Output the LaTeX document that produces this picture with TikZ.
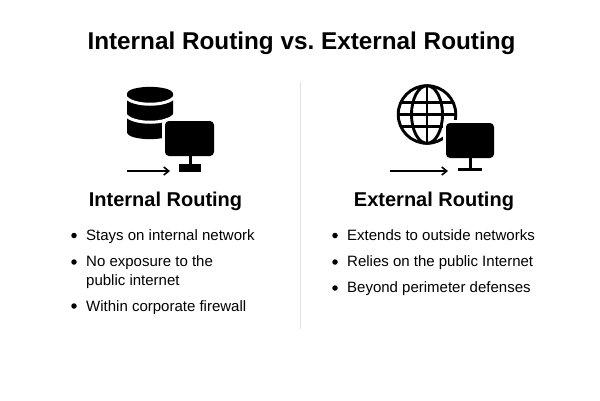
\documentclass[tikz,border=0pt]{standalone}
\usepackage{fontspec}
\setmainfont{Liberation Sans}
\usetikzlibrary{arrows.meta}
\tikzset{
 titletext/.style={font=\fontsize{24.3}{30}\selectfont\bfseries,text=black,inner sep=0pt},
 headtext/.style={font=\fontsize{20}{24}\selectfont\bfseries,text=black,inner sep=0pt},
 itemtext/.style={font=\fontsize{15}{19}\selectfont,text=black,inner sep=0pt,anchor=base west,align=left},
 bulletdot/.style={circle,fill=black,inner sep=0pt,minimum size=5.5pt},
 flowarrow/.style={line width=1.8pt,-{Straight Barb[length=5pt,width=8pt,line width=1.6pt]}},
 glb/.style={line width=2.9pt,draw=black},
 gap/.style={draw=white,line width=3pt}
}
\begin{document}
\begin{tikzpicture}[x=1pt,y=-1pt]
\useasboundingbox (0,0) rectangle (600,400);
\fill[white] (0,0) rectangle (600,400);
\node[titletext] (title) at (301.5,43.5) {Internal Routing vs.\ External Routing};
\draw[draw=black!12,line width=1pt] (300,82) -- (300,329);
% database
\fill (127,94) .. controls (127,84.5) and (173,84.5) .. (173,94) -- (173,132) .. controls (173,141.5) and (127,141.5) .. (127,132) -- cycle;
\draw[gap] (125,96) .. controls (131,107) and (169,107) .. (175,96);
\draw[gap] (125,114) .. controls (131,125) and (169,125) .. (175,114);
% monitor 1
\fill[white,rounded corners=5pt] (162,118) rectangle (217,159);
\fill[rounded corners=4pt] (165,121) rectangle (214,156);
\draw[line width=3pt] (190,155) -- (190,165);
\fill (179,164) rectangle (201,172);
\coordinate (a1) at (127,171); \coordinate (a2) at (170,171);
\draw[flowarrow] (a1) -- (a2);
% globe
\draw[glb] (427,114.5) circle[radius=28.8];
\draw[glb] (427,114.5) ellipse[x radius=15.5,y radius=28.8];
\draw[glb] (427,86) -- (427,143);
\draw[glb] (398.5,114.5) -- (455.5,114.5);
\draw[glb] (401,102.5) -- (453,102.5);
\draw[glb] (401,126.5) -- (453,126.5);
% monitor 2
\fill[white,rounded corners=5pt] (443,120) rectangle (497,161);
\fill[rounded corners=4pt] (446,123) rectangle (494,158);
\draw[line width=3pt] (470,157) -- (470,169);
\draw[line width=3pt] (458,169) -- (482,169);
\coordinate (a3) at (390,171); \coordinate (a4) at (448,171);
\draw[flowarrow] (a3) -- (a4);
% left
\node[headtext] (h1) at (165.5,201) {Internal Routing};
\node[bulletdot] (bl1) at (74,235.5) {};
\node[itemtext] (l1) at (86,240) {Stays on internal network};
\node[bulletdot] (bl2) at (74,262) {};
\node[itemtext] (l2) at (86,266.5) {No exposure to the};
\node[itemtext] (l2b) at (86,285) {public internet};
\node[bulletdot] (bl3) at (74,306) {};
\node[itemtext] (l3) at (86,311) {Within corporate firewall};
% right
\node[headtext] (h2) at (434,201) {External Routing};
\node[bulletdot] (br1) at (335,235.5) {};
\node[itemtext] (r1) at (347,240) {Extends to outside networks};
\node[bulletdot] (br2) at (335,262) {};
\node[itemtext] (r2) at (347,266.5) {Relies on the public Internet};
\node[bulletdot] (br3) at (335,288) {};
\node[itemtext] (r3) at (347,292.5) {Beyond perimeter defenses};
\end{tikzpicture}
\end{document}
